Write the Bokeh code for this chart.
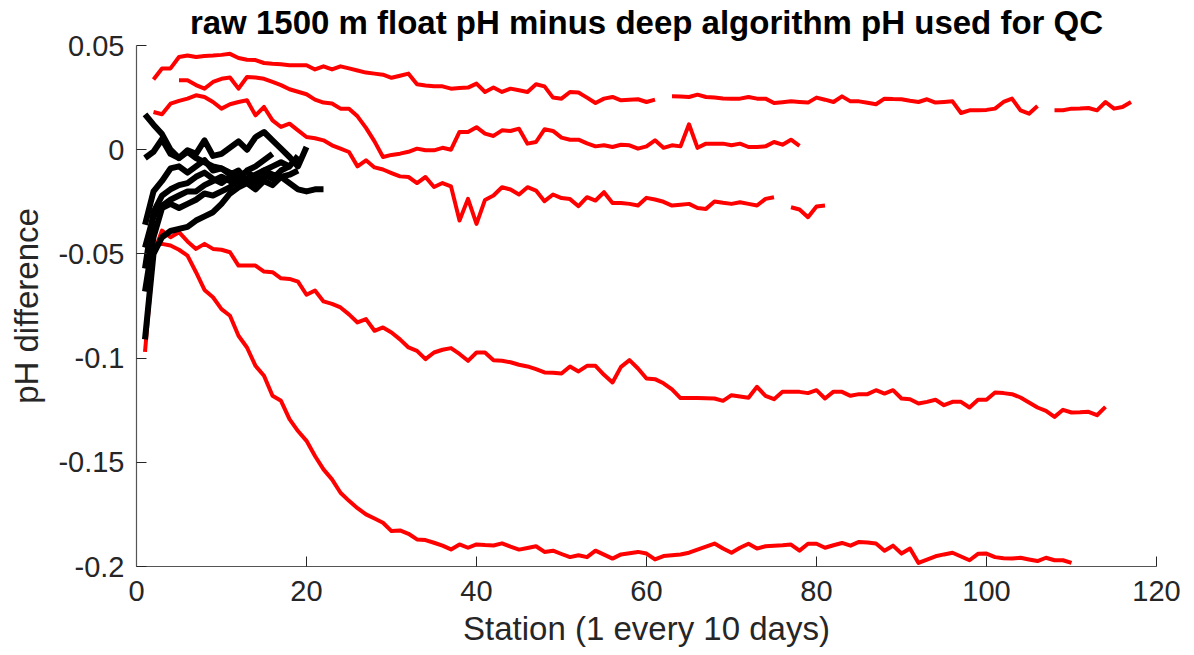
import numpy as np
from bokeh.plotting import figure
from bokeh.models import Range1d, FixedTicker, CustomJSTickFormatter
from bokeh.embed import file_html
from bokeh.resources import INLINE

nan = float("nan")

# ---- red floats (station, pH difference); NaN = missing station ----
red_a_x = list(range(2, 118))
red_a_y = [0.0337, 0.039, 0.039, 0.0445, 0.0452, 0.0445, 0.045, 0.0452, 0.0455, 0.046,
           0.044, 0.0432, 0.043, 0.0416, 0.0412, 0.041, 0.0405, 0.0405, 0.0405, 0.0385,
           0.040, 0.0385, 0.040, 0.039, 0.038, 0.037, 0.0365, 0.036, 0.0345, 0.0355,
           0.0365, 0.0314, 0.0308, 0.0304, 0.0304, 0.0293, 0.0296, 0.0298, 0.0317, 0.0277,
           0.0298, 0.0277, 0.0293, 0.0285, 0.0277, 0.0314, 0.0304, 0.025, 0.0245, 0.0277,
           0.0274, 0.025, 0.0224, 0.0245, 0.0253, 0.0237, 0.024, 0.0242, 0.0229, 0.024,
           nan, 0.0256, 0.0255, 0.0253, 0.0264, 0.0253, 0.025, 0.0246, 0.0245, 0.0245,
           0.0253, 0.0245, 0.0245, 0.0224, 0.0228, 0.0232, 0.0229, 0.0226, 0.025, 0.024,
           0.0229, 0.0256, 0.0232, 0.0232, 0.0225, 0.0218, 0.0245, 0.0243, 0.0242, 0.0235,
           0.0229, 0.0242, 0.0226, 0.0229, 0.0232, 0.0176, 0.0189, 0.0189, 0.0191, 0.0197,
           0.0229, 0.0245, 0.0189, 0.0173, 0.021, nan, 0.0189, 0.0189, 0.0197, 0.0198,
           0.020, 0.0189, 0.0229, 0.0197, 0.0205, 0.0229]

red_b_x = list(range(5, 79))
red_b_y = [0.0333, 0.0333, 0.031, 0.0293, 0.0325, 0.034, 0.0346, 0.0293, 0.0349, 0.0346,
           0.034, 0.0325, 0.031, 0.029, 0.0278, 0.0266, 0.024, 0.0226, 0.0222, 0.0197,
           0.0197, 0.016, 0.0105, 0.004, -0.0035, -0.0025, -0.0019, -0.001, 0.0005, -0.0003,
           -0.0003, 0.0009, 0.0, 0.0085, 0.0085, 0.0108, 0.0077, 0.0066, 0.0093, 0.009,
           0.0101, 0.0029, 0.0037, 0.0098, 0.009, 0.0058, 0.0048, 0.0048, 0.003, 0.0016,
           0.0021, 0.0013, 0.0024, 0.0021, 0.0005, 0.0016, 0.0045, 0.0009, 0.0021, 0.0016,
           0.0122, 0.0009, 0.0029, 0.0029, 0.0029, 0.0021, 0.0029, 0.0013, 0.0013, 0.0016,
           0.0037, 0.0024, 0.0048, 0.0018]

red_c_x = list(range(2, 82))
red_c_y = [0.0181, 0.017, 0.0221, 0.0234, 0.0245, 0.0261, 0.0253, 0.0229, 0.0197, 0.0218,
           0.0229, 0.0237, 0.0165, 0.0205, 0.0141, 0.0109, 0.0125, 0.0093, 0.0061, 0.0055,
           0.0045, 0.0021, 0.0005, -0.0011, -0.008, -0.0051, -0.0085, -0.0095, -0.0112, -0.0128,
           -0.0131, -0.016, -0.0131, -0.0179, -0.016, -0.0176, -0.034, -0.0236, -0.0356, -0.0241,
           -0.022, -0.018, -0.0191, -0.0215, -0.018, -0.0196, -0.0247, -0.0215, -0.0232, -0.0237,
           -0.0271, -0.0228, -0.0244, -0.0204, -0.0256, -0.0256, -0.026, -0.0268, -0.0231, -0.0239,
           -0.025, -0.0268, -0.0264, -0.026, -0.028, -0.0284, -0.0249, -0.0255, -0.026, -0.0252,
           -0.026, -0.0268, -0.0236, -0.0228, nan, -0.0276, -0.0287, -0.0324, -0.0273, -0.0268]

red_d_x = list(range(1, 115))
red_d_y = [-0.097, -0.05, -0.0388, -0.042, -0.0396, -0.044, -0.0476, -0.0452, -0.0476, -0.048,
           -0.0492, -0.0556, -0.0556, -0.0556, -0.0585, -0.0588, -0.0617, -0.062, -0.0633, -0.0696,
           -0.0676, -0.0728, -0.074, -0.0757, -0.079, -0.0829, -0.0813, -0.0869, -0.0853, -0.0877,
           -0.091, -0.0949, -0.0965, -0.1005, -0.0973, -0.096, -0.0952, -0.098, -0.1013, -0.0973,
           -0.0973, -0.101, -0.1013, -0.102, -0.1032, -0.104, -0.1053, -0.1069, -0.107, -0.1074,
           -0.104, -0.1064, -0.1037, -0.1037, -0.108, -0.1117, -0.1042, -0.101, -0.105, -0.1098,
           -0.1101, -0.1121, -0.115, -0.1192, -0.1192, -0.1192, -0.1193, -0.1194, -0.1205, -0.1178,
           -0.1184, -0.119, -0.1138, -0.1181, -0.1197, -0.1161, -0.1162, -0.1162, -0.1168, -0.1154,
           -0.1194, -0.1161, -0.1162, -0.1181, -0.1173, -0.1173, -0.1154, -0.117, -0.1154, -0.1194,
           -0.1197, -0.1218, -0.121, -0.12, -0.1226, -0.121, -0.121, -0.1237, -0.12, -0.12,
           -0.1165, -0.1168, -0.1173, -0.1189, -0.1213, -0.1237, -0.1253, -0.1282, -0.1248, -0.1261,
           -0.126, -0.1258, -0.1274, -0.1234]

red_e_x = list(range(2, 111))
red_e_y = [-0.0455, -0.0452, -0.046, -0.048, -0.0508, -0.0588, -0.0673, -0.0708, -0.0765, -0.0797,
           -0.0893, -0.0949, -0.1037, -0.1085, -0.1181, -0.1205, -0.1293, -0.135, -0.1397, -0.147,
           -0.1534, -0.1582, -0.1646, -0.1685, -0.172, -0.175, -0.177, -0.179, -0.183, -0.1827,
           -0.1843, -0.187, -0.1873, -0.1886, -0.190, -0.1918, -0.1894, -0.191, -0.1894, -0.1897,
           -0.1899, -0.1889, -0.1905, -0.1919, -0.1911, -0.1903, -0.193, -0.1924, -0.194, -0.1955,
           -0.1946, -0.1955, -0.1924, -0.1943, -0.1962, -0.1942, -0.1936, -0.193, -0.1938, -0.1966,
           -0.195, -0.1946, -0.1942, -0.1934, -0.1919, -0.1905, -0.189, -0.1914, -0.1934, -0.191,
           -0.1891, -0.1914, -0.1903, -0.190, -0.1898, -0.1895, -0.1924, -0.1891, -0.1891, -0.191,
           -0.1898, -0.1887, -0.190, -0.1882, -0.1885, -0.189, -0.1924, -0.190, -0.1938, -0.1914,
           -0.1983, -0.1967, -0.1951, -0.1942, -0.1934, -0.1952, -0.197, -0.1939, -0.1938, -0.1955,
           -0.196, -0.1962, -0.1958, -0.1966, -0.1974, -0.1958, -0.197, -0.197, -0.1983]

# ---- black floats (short records) ----
black_1_y = [0.017, 0.012, 0.0075, 0.0, -0.004, -0.001, -0.004, -0.006, -0.008, -0.009, -0.011,
             -0.012, -0.011, -0.013, -0.010, -0.012, -0.013, -0.016, -0.019, -0.020, -0.019, -0.019]
black_2_y = [-0.004, -0.001, 0.005, -0.002, -0.004, -0.0003, -0.002, 0.0045, -0.003, -0.002,
             0.001, 0.004, 0.0, 0.006, 0.0085, 0.0045, 0.0005, -0.0035, -0.008, 0.0013]
black_3_y = [-0.036, -0.020, -0.015, -0.009, -0.008, -0.011, -0.008, -0.005, -0.010, -0.009,
             -0.012, -0.010, -0.015, -0.012, -0.010, -0.008, -0.006, -0.008, -0.003]
black_4_y = [-0.057, -0.030, -0.022, -0.019, -0.017, -0.016, -0.013, -0.011, -0.014, -0.016,
             -0.013, -0.014, -0.010, -0.008, -0.005, -0.002]
black_5_y = [-0.068, -0.042, -0.028, -0.026, -0.028, -0.026, -0.024, -0.021, -0.022, -0.020,
             -0.018, -0.014, -0.016, -0.013, -0.012, -0.014, -0.010, -0.008]
black_6_y = [-0.091, -0.050, -0.042, -0.039, -0.038, -0.037, -0.034, -0.032, -0.030, -0.026,
             -0.021, -0.018, -0.016, -0.019, -0.015, -0.017, -0.013, -0.012, -0.010]
black_7_y = [-0.047, -0.032, -0.027, -0.024, -0.022, -0.020, -0.020, -0.017, -0.015, -0.013,
             -0.015, -0.017, -0.014, -0.016, -0.013, -0.012, -0.013]

x_ticks = [0, 20, 40, 60, 80, 100, 120]
y_ticks = [-0.2, -0.15, -0.1, -0.05, 0, 0.05]

FONT = "Liberation Sans"

p = figure(width=1194, height=655, output_backend="svg", toolbar_location=None,
           x_range=Range1d(0, 120), y_range=Range1d(-0.2, 0.05),
           min_border_left=136, min_border_right=38, min_border_top=45, min_border_bottom=89)

p.title.text = "raw 1500 m float pH minus deep algorithm pH used for QC"
p.title.text_font = FONT
p.title.text_font_size = "33px"
p.title.text_font_style = "bold"
p.title.align = "center"
p.title.vertical_align = "top"
p.title.text_color = "#000000"
p.title.standoff = 6

red_sets = [(red_a_x, red_a_y), (red_b_x, red_b_y), (red_c_x, red_c_y),
            (red_d_x, red_d_y), (red_e_x, red_e_y)]
for xs, ys in red_sets:
    p.line(xs, ys, line_color="#ff0000", line_width=4, line_join="round")

for ys in [black_1_y, black_2_y, black_3_y, black_4_y, black_5_y, black_6_y, black_7_y]:
    xs = list(range(1, len(ys) + 1))
    p.line(xs, ys, line_color="#000000", line_width=6, line_join="round")

p.xgrid.visible = False
p.ygrid.visible = False
p.outline_line_color = None
p.background_fill_color = "white"
p.border_fill_color = "white"

for ax in (p.xaxis[0], p.yaxis[0]):
    ax.axis_line_color = "#555555"
    ax.axis_line_width = 1.2
    ax.major_tick_line_color = "#262626"
    ax.major_tick_in = 10
    ax.major_tick_out = 0
    ax.minor_tick_line_color = None
    ax.major_label_text_font = FONT
    ax.major_label_text_font_size = "29px"
    ax.major_label_text_color = "#262626"
    ax.axis_label_text_font = FONT
    ax.axis_label_text_font_size = "33px"
    ax.axis_label_text_font_style = "normal"
    ax.axis_label_text_color = "#262626"

p.xaxis[0].ticker = FixedTicker(ticks=x_ticks)
p.yaxis[0].ticker = FixedTicker(ticks=y_ticks)
p.yaxis[0].formatter = CustomJSTickFormatter(code="return Number(tick.toFixed(2)).toString();")
p.xaxis[0].axis_label = "Station (1 every 10 days)"
p.yaxis[0].axis_label = "pH difference"
p.xaxis[0].major_label_standoff = 14
p.yaxis[0].major_label_standoff = 12
p.xaxis[0].axis_label_standoff = 6
p.yaxis[0].axis_label_standoff = 10

open("out.html", "w").write(file_html(p, INLINE))
